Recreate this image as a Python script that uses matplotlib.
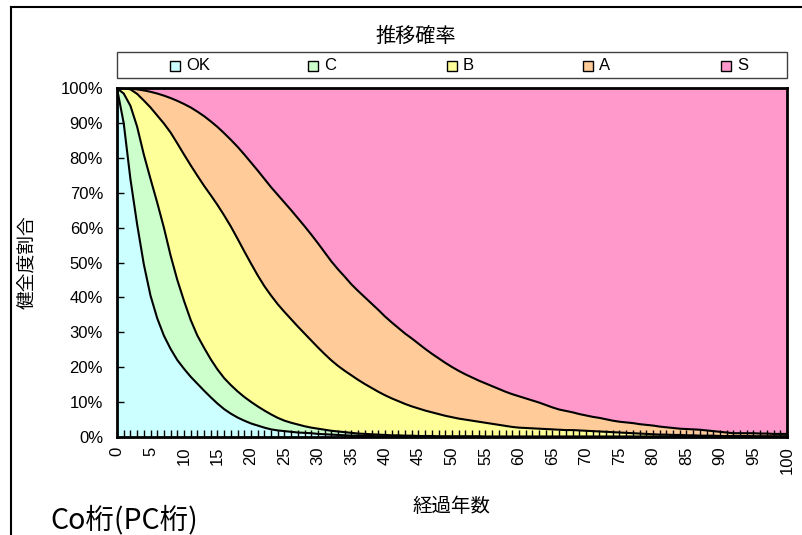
import matplotlib
matplotlib.use('Agg')
import matplotlib.pyplot as plt
from matplotlib.patches import Rectangle
from matplotlib.lines import Line2D

plt.rcParams['font.family'] = ['Liberation Sans', 'Noto Sans CJK JP', 'DejaVu Sans']
CJK = ['Noto Sans CJK JP', 'DejaVu Sans']

# ---------------- data ----------------
years = list(range(0, 101))
grades = ['OK', 'C', 'B', 'A', 'S']
colors = ['#CCFFFF', '#CCFFCC', '#FFFF99', '#FFCC99', '#FF99CC']

# cumulative share (grade or better)
ok_cum = [1.0, 0.90, 0.74, 0.61, 0.495, 0.405, 0.34, 0.29, 0.252, 0.22,
          0.195, 0.172, 0.152, 0.132, 0.113, 0.095, 0.079, 0.066, 0.055, 0.046,
          0.038, 0.032, 0.026, 0.021, 0.018, 0.016, 0.014, 0.012, 0.011, 0.010,
          0.008, 0.007, 0.006, 0.005, 0.004, 0.003, 0.003, 0.002, 0.002, 0.001,
          0.001, 0.001, 0.001, 0.001, 0.001, 0.0, 0.0, 0.0, 0.0, 0.0,
          0.0, 0.0, 0.0, 0.0, 0.0, 0.0, 0.0, 0.0, 0.0, 0.0,
          0.0, 0.0, 0.0, 0.0, 0.0, 0.0, 0.0, 0.0, 0.0, 0.0,
          0.0, 0.0, 0.0, 0.0, 0.0, 0.0, 0.0, 0.0, 0.0, 0.0,
          0.0, 0.0, 0.0, 0.0, 0.0, 0.0, 0.0, 0.0, 0.0, 0.0,
          0.0, 0.0, 0.0, 0.0, 0.0, 0.0, 0.0, 0.0, 0.0, 0.0,
          0.0]
c_cum = [1.0, 0.985, 0.95, 0.89, 0.81, 0.74, 0.672, 0.60, 0.52, 0.45,
         0.39, 0.335, 0.29, 0.255, 0.222, 0.193, 0.168, 0.148, 0.13, 0.114,
         0.10, 0.087, 0.075, 0.064, 0.054, 0.046, 0.04, 0.035, 0.03, 0.026,
         0.023, 0.02, 0.017, 0.015, 0.013, 0.011, 0.009, 0.008, 0.007, 0.006,
         0.005, 0.004, 0.004, 0.003, 0.003, 0.002, 0.002, 0.002, 0.001, 0.001,
         0.001, 0.001, 0.001, 0.001, 0.001, 0.0, 0.0, 0.0, 0.0, 0.0,
         0.0, 0.0, 0.0, 0.0, 0.0, 0.0, 0.0, 0.0, 0.0, 0.0,
         0.0, 0.0, 0.0, 0.0, 0.0, 0.0, 0.0, 0.0, 0.0, 0.0,
         0.0, 0.0, 0.0, 0.0, 0.0, 0.0, 0.0, 0.0, 0.0, 0.0,
         0.0, 0.0, 0.0, 0.0, 0.0, 0.0, 0.0, 0.0, 0.0, 0.0,
         0.0]
b_cum = [1.0, 1.0, 0.997, 0.984, 0.965, 0.945, 0.922, 0.899, 0.873, 0.842,
         0.81, 0.779, 0.749, 0.72, 0.693, 0.665, 0.635, 0.603, 0.568, 0.532,
         0.497, 0.463, 0.432, 0.405, 0.38, 0.358, 0.337, 0.316, 0.296, 0.276,
         0.256, 0.237, 0.219, 0.203, 0.189, 0.176, 0.163, 0.151, 0.14, 0.129,
         0.119, 0.11, 0.102, 0.094, 0.087, 0.081, 0.075, 0.07, 0.065, 0.06,
         0.056, 0.052, 0.049, 0.046, 0.043, 0.04, 0.037, 0.034, 0.031, 0.028,
         0.026, 0.025, 0.024, 0.023, 0.022, 0.021, 0.02, 0.019, 0.019, 0.018,
         0.017, 0.016, 0.015, 0.014, 0.013, 0.012, 0.011, 0.01, 0.009, 0.008,
         0.007, 0.006, 0.006, 0.005, 0.005, 0.004, 0.004, 0.003, 0.003, 0.003,
         0.002, 0.002, 0.002, 0.002, 0.002, 0.001, 0.001, 0.001, 0.001, 0.001,
         0.001]
a_cum = [1.0, 1.0, 0.999, 0.997, 0.994, 0.99, 0.985, 0.979, 0.972, 0.964,
         0.955, 0.945, 0.933, 0.92, 0.905, 0.889, 0.871, 0.852, 0.832, 0.81,
         0.787, 0.764, 0.74, 0.716, 0.694, 0.672, 0.65, 0.627, 0.604, 0.58,
         0.555, 0.529, 0.503, 0.48, 0.459, 0.437, 0.418, 0.4, 0.382, 0.364,
         0.345, 0.328, 0.312, 0.296, 0.282, 0.267, 0.252, 0.238, 0.225, 0.212,
         0.2, 0.189, 0.179, 0.17, 0.161, 0.153, 0.145, 0.137, 0.129, 0.122,
         0.116, 0.11, 0.104, 0.098, 0.091, 0.084, 0.078, 0.074, 0.07, 0.065,
         0.061, 0.057, 0.054, 0.05, 0.046, 0.043, 0.041, 0.039, 0.036, 0.034,
         0.032, 0.029, 0.027, 0.025, 0.023, 0.022, 0.021, 0.02, 0.018, 0.016,
         0.014, 0.012, 0.01, 0.01, 0.01, 0.01, 0.009, 0.009, 0.008, 0.008,
         0.008]
s_cum = [1.0] * len(years)

x_tick_values = list(range(0, 101, 5))
y_tick_values = [i / 10 for i in range(0, 11)]
y_tick_labels = [f'{i * 10}%' for i in range(0, 11)]

title_text = '推移確率'
x_label = '経過年数'
y_label = '健全度割合'
note_text = 'Co桁(PC桁)'

# ---------------- figure ----------------
W, H = 803, 535
fig = plt.figure(figsize=(W / 100, H / 100), dpi=100)
fig.patch.set_facecolor('white')

def fx(px):
    return px / W

def fy(py):
    return 1 - py / H

ax_l, ax_r, ax_t, ax_b = 117, 787, 88.3, 436.7
ax = fig.add_axes([fx(ax_l), fy(ax_b), (ax_r - ax_l) / W, (ax_b - ax_t) / H])

bounds = [ok_cum, c_cum, b_cum, a_cum, s_cum]
lower = [0.0] * len(years)
for b, col in zip(bounds, colors):
    ax.fill_between(years, lower, b, facecolor=col, edgecolor='none', lw=0, zorder=1)
    lower = b
for b in bounds[:4]:
    ax.plot(years, b, color='black', lw=1.5, zorder=2, solid_joinstyle='round')

ax.set_xlim(0, 100)
ax.set_ylim(0, 1)
ax.set_xticks(x_tick_values)
ax.set_xticklabels([str(v) for v in x_tick_values], rotation=90)
ax.set_xticks(years, minor=True)
ax.set_yticks(y_tick_values)
ax.set_yticklabels(y_tick_labels)
ax.tick_params(axis='x', which='both', direction='in', length=5, width=1,
               pad=7, labelsize=12, colors='black')
ax.tick_params(axis='y', which='both', direction='in', length=5, width=1,
               pad=10, labelsize=12, colors='black')
for sp in ax.spines.values():
    sp.set_linewidth(2)
    sp.set_color('black')
    sp.set_zorder(5)

ax.set_ylabel(y_label, fontsize=13.5, family=CJK, va='center')
ax.yaxis.set_label_coords((28 - ax_l) / (ax_r - ax_l), 0.5)
ax.set_xlabel(x_label, fontsize=14, family=CJK, va='center')
ax.xaxis.set_label_coords(0.5, (ax_b - 507) / (ax_b - ax_t))

# title
fig.text(fx(415.5), fy(36), title_text, ha='center', va='center',
         fontsize=14.5, family=CJK)

# legend (Excel style: fixed column positions inside a framed box)
fig.add_artist(Rectangle((fx(117), fy(78.3)), (787 - 117) / W, (78.3 - 51.7) / H,
                         transform=fig.transFigure, facecolor='white',
                         edgecolor='#404040', lw=1))
leg_left = [170, 308, 447, 583, 721]
for g, col, lx in zip(grades, colors, leg_left):
    fig.add_artist(Rectangle((fx(lx), fy(70.5)), 10 / W, 10 / H,
                             transform=fig.transFigure, facecolor=col,
                             edgecolor='black', lw=1))
    fig.text(fx(lx + 16), fy(65.5), g, ha='left', va='center', fontsize=12)

# note text
fig.text(fx(50), fy(520), note_text, ha='left', va='center', fontsize=20.5, family=CJK)

# outer frame (chart area border)
fig.add_artist(Line2D([fx(11), fx(11)], [0, fy(7)], transform=fig.transFigure,
                      color='black', lw=1.5))
fig.add_artist(Line2D([fx(11), 1], [fy(7), fy(7)], transform=fig.transFigure,
                      color='black', lw=1.5))

fig.savefig('out.png', dpi=100)
